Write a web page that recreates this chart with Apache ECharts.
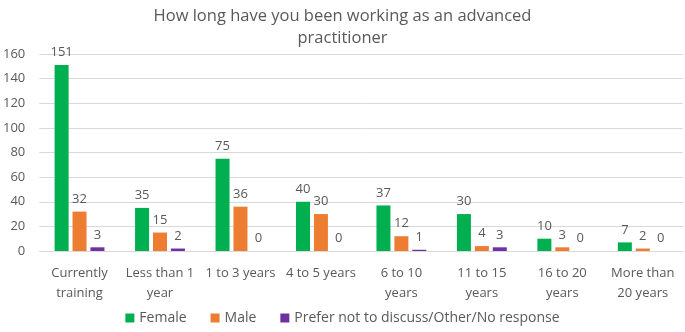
<!DOCTYPE html>
<html>
<head>
<meta charset="utf-8">
<script src="https://cdn.jsdelivr.net/npm/echarts@6/dist/echarts.min.js"></script>
<style>
body { margin: 0; background: #fff; }
#chart { width: 685px; height: 332px; }
</style>
</head>
<body>
<div id="chart"></div>
<script>
var categories = ['Currently\ntraining', 'Less than 1\nyear', '1 to 3 years', '4 to 5 years', '6 to 10\nyears', '11 to 15\nyears', '16 to 20\nyears', 'More than\n20 years'];
var female = [151, 35, 75, 40, 37, 30, 10, 7];
var male = [32, 15, 36, 30, 12, 4, 3, 2];
var other = [3, 2, 0, 0, 1, 3, 0, 0];

var font = 'Open Sans';
var txt = '#595959';

function barSeries(name, data, color) {
  return {
    name: name,
    type: 'bar',
    data: data,
    barWidth: 14,
    barGap: '28%',
    itemStyle: { color: color },
    label: { show: true, position: 'top', distance: 6, color: txt, fontSize: 13, fontFamily: font }
  };
}

var chart = echarts.init(document.getElementById('chart'));
chart.setOption({
  animation: false,
  title: {
    text: 'How long have you been working as an advanced\npractitioner',
    left: 'center',
    top: 0,
    textStyle: { color: txt, fontSize: 16.5, fontWeight: 'normal', fontFamily: font, lineHeight: 22 }
  },
  legend: {
    bottom: 2,
    left: 'center',
    itemWidth: 9,
    itemHeight: 9,
    itemGap: 24,
    itemTextGap: 4,
    icon: 'rect',
    textStyle: { color: txt, fontSize: 14, fontFamily: font }
  },
  grid: { left: 36, right: 2, top: 54, bottom: 81 },
  xAxis: {
    type: 'category',
    data: categories,
    axisLine: { lineStyle: { color: '#d9d9d9' } },
    axisTick: { show: false },
    axisLabel: { color: txt, fontSize: 13, fontFamily: font, interval: 0, margin: 12, lineHeight: 20 }
  },
  yAxis: {
    type: 'value',
    min: 0,
    max: 160,
    interval: 20,
    axisLine: { show: false },
    axisTick: { show: false },
    splitLine: { lineStyle: { color: '#d9d9d9' } },
    axisLabel: { color: txt, fontSize: 13, fontFamily: font, margin: 14 }
  },
  series: [
    barSeries('Female', female, '#00B050'),
    barSeries('Male', male, '#ED7D31'),
    barSeries('Prefer not to discuss/Other/No response', other, '#7030A0')
  ]
});
</script>
</body>
</html>
